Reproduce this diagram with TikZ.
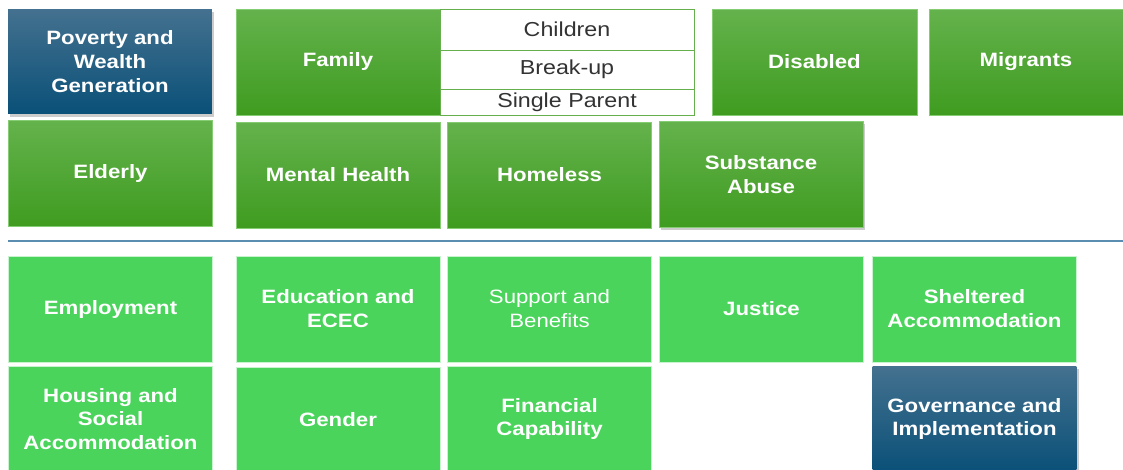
\documentclass[tikz,border=0pt]{standalone}
\usepackage{fontspec}
\setmainfont{Liberation Sans}[FakeStretch=1.15]
\usetikzlibrary{shadows}

\definecolor{grtop}{HTML}{64B24C}
\definecolor{grbot}{HTML}{3F9C20}
\definecolor{grline}{HTML}{86CC72}
\definecolor{bltop}{HTML}{44718F}
\definecolor{blbot}{HTML}{0A5078}
\definecolor{flat}{HTML}{4AD45C}
\definecolor{rule}{HTML}{5B8DB0}

\begin{document}
\begin{tikzpicture}[x=0.02cm,y=-0.02cm,
  box/.style={minimum width=4.08cm,minimum height=2.12cm,inner sep=2pt,align=center,
    text=white,font=\bfseries\fontsize{11}{13.6}\selectfont},
  greenbox/.style={box,draw=grline,line width=0.4pt,top color=grtop,bottom color=grbot},
  bluebox/.style={box,draw=none,top color=bltop,bottom color=blbot},
  flatbox/.style={box,fill=flat,draw=white!70!flat,line width=0.4pt},
  subbox/.style={draw=grbot!80!white,fill=white,minimum width=5.08cm,inner sep=0pt,
    text=black!80,font=\fontsize{11.5}{13.6}\selectfont},
  shad/.style={drop shadow={opacity=0.4,shadow xshift=1.2pt,shadow yshift=-1.5pt}}]
 \useasboundingbox (0,0) rectangle (1123,470);

 % top rows
 \node[bluebox,shad,minimum height=2.1cm] (pov) at (110,61.5) {Poverty and\\Wealth\\Generation};
 \node[greenbox] (fam) at (338,62) {Family};
 \node[subbox,minimum height=0.82cm] (chi) at (567,29.5) {Children};
 \node[subbox,minimum height=0.78cm] (brk) at (567,69.5) {Break-up};
 \node[subbox,minimum height=0.52cm] (sgl) at (567,102) {Single Parent};
 \node[greenbox,minimum width=4.1cm] (dis) at (814.5,62) {Disabled};
 \node[greenbox,minimum width=3.88cm] (mig) at (1026,62) {Migrants};

 \node[greenbox] (eld) at (110.5,173.5) {Elderly};
 \node[greenbox] (men) at (338,175) {Mental Health};
 \node[greenbox] (hom) at (549.5,175) {Homeless};
 \node[greenbox,shad] (sub) at (761,174.5) {Substance\\Abuse};

 % divider
 \coordinate (l1) at (8,241);
 \coordinate (l2) at (1123,241);
 \draw[rule,line width=0.9pt] (l1) -- (l2);

 % bottom rows
 \node[flatbox] (emp) at (110.5,309) {Employment};
 \node[flatbox] (edu) at (338,309) {Education and\\ECEC};
 \node[flatbox,font=\fontsize{11}{13.6}\selectfont] (sup) at (549.5,309) {Support and\\Benefits};
 \node[flatbox] (jus) at (761.5,309) {Justice};
 \node[flatbox] (she) at (974.5,309) {Sheltered\\Accommodation};

 \node[flatbox] (hou) at (110.5,419) {Housing and\\Social\\Accommodation};
 \node[flatbox] (gen) at (338,420) {Gender};
 \node[flatbox] (fin) at (549.5,419) {Financial\\Capability};
 \node[bluebox,shad] (gov) at (974.5,419) {Governance and\\Implementation};
\end{tikzpicture}
\end{document}
